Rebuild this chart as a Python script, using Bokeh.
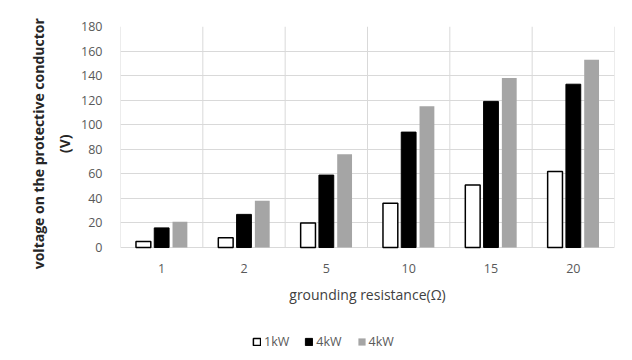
from bokeh.plotting import figure
from bokeh.models import (ColumnDataSource, FixedTicker, Legend, LegendItem,
                          Range1d, LinearAxis)
from bokeh.core.properties import value
from bokeh.embed import file_html
from bokeh.resources import INLINE

categories = ["1", "2", "5", "10", "15", "20"]
p1kW = [5, 8, 20, 36, 51, 62]
p4kW_black = [16, 27, 59, 94, 119, 133]
p4kW_gray = [21, 38, 76, 115, 138, 153]
series_names = ["1kW", "4kW", "4kW"]
y_ticks = [0, 20, 40, 60, 80, 100, 120, 140, 160, 180]
x_title = "grounding resistance(\u03a9)"
y_title_lines = ["voltage on the protective conductor", "(V)"]

FONT = "Open Sans"
GRID = "#d9d9d9"
n = len(categories)
centers = [i + 0.5 for i in range(n)]
y_max = y_ticks[-1]
TITLE_Y = 84.5  # vertical position (data units) of the y title's centre

src = ColumnDataSource(dict(
    x1=[c - 0.222 for c in centers],
    x2=[c for c in centers],
    x3=[c + 0.222 for c in centers],
    a=p1kW, b=p4kW_black, c=p4kW_gray,
))

# frame extends below the value axis so the category labels and legend
# live inside it (y=0 sits at the bottom of the gridded area)
p = figure(width=632, height=360, output_backend="svg", toolbar_location=None,
           x_range=Range1d(0, n), y_range=Range1d(-92.0, y_max),
           x_axis_location=None,
           min_border_left=120, min_border_right=18, min_border_top=26,
           min_border_bottom=0)
p.outline_line_color = None
p.xgrid.visible = False

# vertical category separators and plot-area sides
bounds = list(range(n + 1))
p.segment(x0=bounds, y0=[0] * len(bounds), x1=bounds, y1=[y_max] * len(bounds),
          line_color=GRID, line_width=1)

r1 = p.vbar(x="x1", top="a", width=0.18, source=src, fill_color="white",
            line_color="black", line_width=1.5)
r2 = p.vbar(x="x2", top="b", width=0.18, source=src, fill_color="black",
            line_color="black", line_width=1)
r3 = p.vbar(x="x3", top="c", width=0.18, source=src, fill_color="#a5a5a5",
            line_color=None)

# category labels and x title
p.text(x=centers, y=[0] * n, text=categories, y_offset=21,
       text_align="center", text_baseline="middle",
       text_font=value(FONT), text_font_size="12.5px", text_color="#595959")
p.text(x=[n / 2], y=[0], text=[x_title], y_offset=47,
       text_align="center", text_baseline="middle",
       text_font=value(FONT), text_font_size="14px", text_color="#404040")

# y axis (values)
p.yaxis.ticker = FixedTicker(ticks=y_ticks)
p.yaxis.bounds = (0, y_max)
p.yaxis.major_tick_line_color = None
p.yaxis.minor_tick_line_color = None
p.yaxis.axis_line_color = None
p.yaxis.major_label_text_font = FONT
p.yaxis.major_label_text_font_size = "12.5px"
p.yaxis.major_label_text_color = "#595959"
p.yaxis.major_label_standoff = 12

# y title: two stacked label-only axes, nearest line first
for line, standoff in [(y_title_lines[1], 4), (y_title_lines[0], 4)]:
    ax = LinearAxis(ticker=FixedTicker(ticks=[TITLE_Y]),
                    major_label_overrides={TITLE_Y: line},
                    major_label_orientation="vertical",
                    major_tick_line_color=None, minor_tick_line_color=None,
                    axis_line_color=None, major_tick_out=0, major_tick_in=0,
                    major_label_standoff=standoff,
                    major_label_text_font=FONT,
                    major_label_text_font_style="bold",
                    major_label_text_font_size="14px",
                    major_label_text_color="#262626")
    p.add_layout(ax, "left")

p.ygrid.ticker = FixedTicker(ticks=y_ticks)
p.ygrid.grid_line_color = GRID

# legend
legend = Legend(items=[LegendItem(label=series_names[0], renderers=[r1]),
                       LegendItem(label=series_names[1], renderers=[r2]),
                       LegendItem(label=series_names[2], renderers=[r3])],
                orientation="horizontal", location=(132, 10),
                background_fill_alpha=0, border_line_color=None,
                glyph_width=9, glyph_height=9, label_standoff=3, spacing=15,
                padding=4, margin=0,
                label_text_font=FONT, label_text_font_size="12.5px",
                label_text_color="#595959")
p.add_layout(legend, "center")

open("out.html", "w").write(file_html(p, INLINE))
